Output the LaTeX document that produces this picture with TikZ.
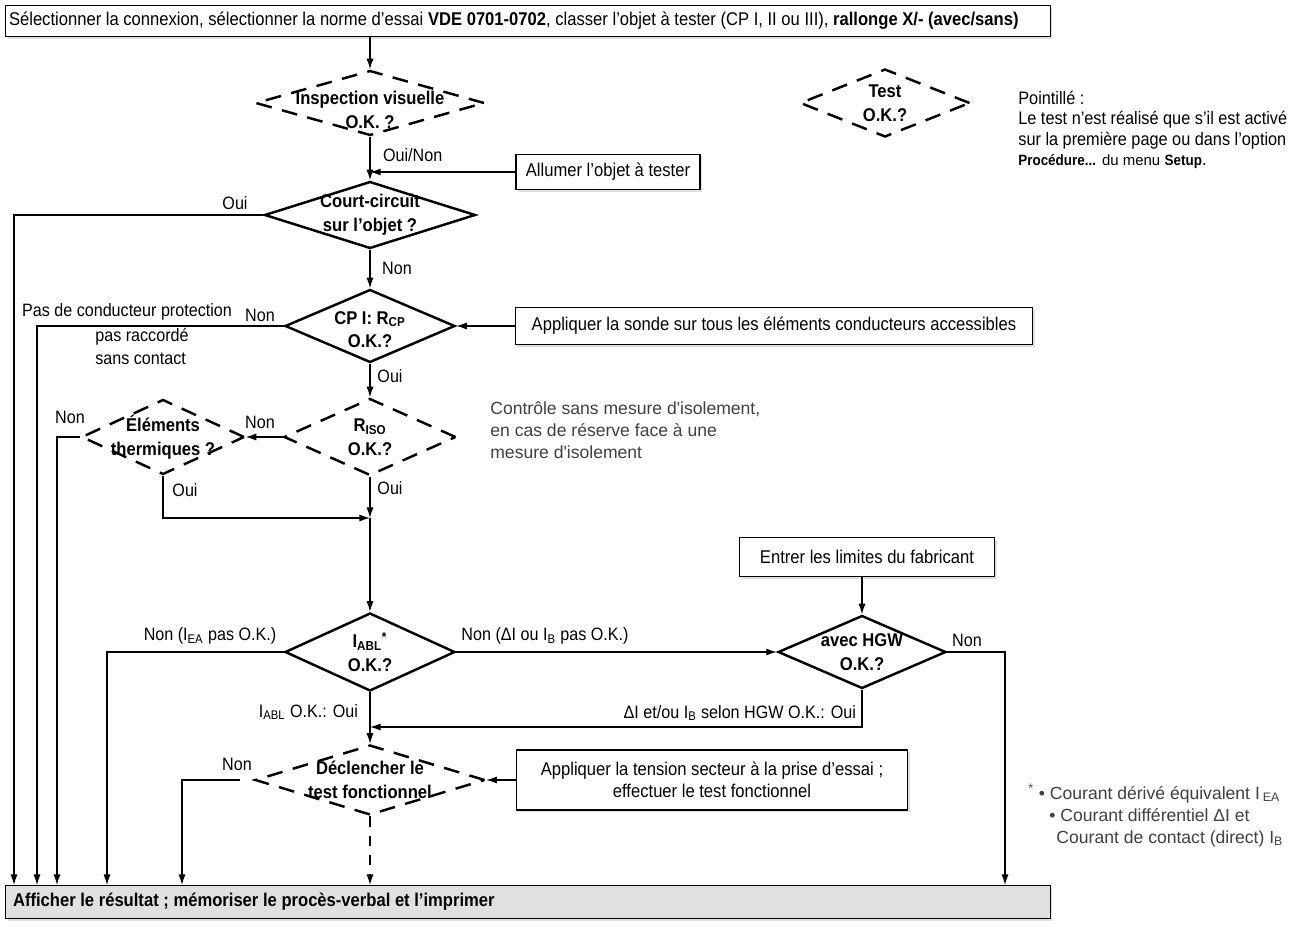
\documentclass[tikz,border=0pt]{standalone}
\usepackage{fontspec}
\setmainfont{Liberation Sans}[FakeStretch=0.9]
\newfontfamily\notefont{Liberation Sans}
\usetikzlibrary{shapes.geometric,arrows.meta,shadows}

\tikzset{
  txt/.style={inner sep=1pt, font=\fontsize{10.2}{12.5}\selectfont},
  box/.style={draw, line width=0.6pt, fill=white, inner sep=0pt,
    font=\fontsize{10.5}{12.5}\selectfont, align=center,
    drop shadow={shadow xshift=1.2pt, shadow yshift=-1.2pt, fill=black!25}},
  ask/.style={diamond, draw, line width=1.4pt, inner sep=0pt},
  askdash/.style={ask, dash pattern=on 9pt off 6pt},
  asktxt/.style={font=\fontsize{10.5}{13.5}\selectfont\bfseries, align=center},
  arr/.style={line width=0.7pt, -{Latex[length=6pt,width=4pt]}},
  note/.style={font=\notefont\fontsize{10}{12.5}\selectfont, text=black!75,
    align=left, inner sep=0pt},
}

\begin{document}
\begin{tikzpicture}[x=0.02cm,y=-0.02cm]
\useasboundingbox (0,0) rectangle (1304,926);

% Boites
\node[box, anchor=north west, minimum width=20.9cm, minimum height=0.62cm] (top) at (5,5)
  {\makebox[20.76cm][l]{Sélectionner la connexion, sélectionner la norme d'essai \textbf{VDE 0701-0702}, classer l'objet à tester (CP I, II ou III), \textbf{rallonge X/- (avec/sans)}}};
\node[box, minimum width=3.68cm, minimum height=0.7cm] (allumer) at (608,172) {Allumer l'objet à tester};
\node[box, minimum width=10.36cm, minimum height=0.74cm] (sonde) at (774,326) {Appliquer la sonde sur tous les éléments conducteurs accessibles};
\node[box, minimum width=5.1cm, minimum height=0.78cm] (limites) at (867,557) {Entrer les limites du fabricant};
\node[box, minimum width=7.82cm, minimum height=1.2cm] (tension) at (712,780)
  {Appliquer la tension secteur à la prise d'essai ;\\effectuer le test fonctionnel};
\node[box, fill=black!12, anchor=north west, minimum width=20.9cm, minimum height=0.66cm,
  font=\fontsize{10.5}{12.5}\selectfont\bfseries] (res) at (5,885)
  {\makebox[20.6cm][l]{Afficher le résultat ; mémoriser le procès-verbal et l'imprimer}};

% Losanges
\node[askdash, minimum width=4.58cm, minimum height=1.3cm,
  label={[asktxt, yshift=-4pt]center:{Inspection visuelle\\O.K. ?}}] (visu) at (370,103) {};
\node[ask, minimum width=4.22cm, minimum height=1.34cm,
  label={[asktxt]center:{Court-circuit\\sur l'objet ?}}] (court) at (370,215) {};
\node[ask, minimum width=3.4cm, minimum height=1.46cm,
  label={[asktxt, yshift=-2pt]center:{CP I: R\textsubscript{CP}\\O.K.?}}] (rcp) at (370,326) {};
\node[askdash, minimum width=3.44cm, minimum height=1.54cm,
  label={[asktxt]center:{R\textsubscript{ISO}\\O.K.?}}] (riso) at (370,437) {};
\node[askdash, minimum width=3.26cm, minimum height=1.5cm,
  label={[asktxt]center:{Éléments\\thermiques ?}}] (therm) at (163,437) {};
\node[ask, minimum width=3.4cm, minimum height=1.56cm,
  label={[asktxt]center:{I\textsubscript{ABL}\textsuperscript{*}\\O.K.?}}] (iabl) at (370,652) {};
\node[ask, minimum width=3.36cm, minimum height=1.46cm,
  label={[asktxt]center:{avec HGW\\O.K.?}}] (hgw) at (862,652) {};
\node[askdash, minimum width=4.6cm, minimum height=1.4cm,
  label={[asktxt]center:{Déclencher le\\test fonctionnel}}] (trig) at (370,780) {};
\node[askdash, minimum width=3.4cm, minimum height=1.36cm,
  label={[asktxt]center:{Test\\O.K.?}}] (legend) at (885,103) {};

% Notes
\node[txt, anchor=north west, align=left, inner sep=0pt,
  font=\fontsize{10.3}{11.5}\selectfont] (pointille) at (1018,91)
  {Pointillé :\\Le test n'est réalisé que s'il est activé\\sur la première page ou dans l'option\\
   {\fontsize{8.5}{11}\selectfont\bfseries Procédure...} {\notefont\fontsize{8.5}{11}\selectfont du menu} {\fontsize{8.5}{11}\selectfont\bfseries Setup}.};
\node[note, anchor=north west] (controle) at (490,401)
  {Contrôle sans mesure d'isolement,\\en cas de réserve face à une\\mesure d'isolement};
\node[note, anchor=north west] (renvoi) at (1028,784)
  {\textsuperscript{*} \textbullet{} Courant dérivé équivalent I\,\textsubscript{EA}\\
   \hspace*{1.2em}\textbullet{} Courant différentiel ΔI et\\
   \hspace*{1.6em}Courant de contact (direct) I\textsubscript{B}};

% Liaisons
\coordinate (join) at (370,518);
\coordinate (retour) at (370,727);
\draw[arr] (visu.north |- top.south) -- (visu.north);
\draw[arr] (visu.south) -- (court.north);
\draw[arr] (allumer.west) -- (allumer.west -| court.north);
\draw[arr] (court.west) -| (14,0 |- res.north);
\draw[arr] (court.south) -- (rcp.north);
\draw[arr] (sonde.west) -- (rcp.east);
\draw[arr] (rcp.west) -| (37,0 |- res.north);
\draw[arr] (rcp.south) -- (riso.north);
\draw[arr] (riso.west) -- (therm.east);
\draw[arr] (therm.west) -| (57,0 |- res.north);
\draw[arr] (therm.south) |- (join);
\draw[arr] (riso.south) -- (join);
\draw[arr] (join) -- (iabl.north);
\draw[arr] (iabl.west) -| (107,0 |- res.north);
\draw[arr] (iabl.east) -- (hgw.west);
\draw[arr] (limites.south -| hgw.north) -- (hgw.north);
\draw[arr] (hgw.east) -| (1005,0 |- res.north);
\draw[arr] (hgw.south) |- (retour);
\draw[arr] (iabl.south) -- (trig.north);
\draw[arr] (tension.west) -- (trig.east);
\draw[arr] ([xshift=-8pt]trig.west) -| (182,0 |- res.north);
\draw[arr, dash pattern=on 6pt off 5pt] (trig.south) -- (trig.south |- res.north);

% Etiquettes
\node[txt, anchor=west] (l1) at (381,155) {Oui/Non};
\node[txt] (l2) at (235,203) {Oui};
\node[txt] (l3) at (397,268) {Non};
\node[txt] (l4) at (260,315) {Non};
\node[txt, anchor=east] (l5) at (234,312) {Pas de conducteur protection};
\node[txt, anchor=north west, align=left, inner sep=0pt,
  font=\fontsize{10.2}{13}\selectfont] (l6) at (95,328) {pas raccordé\\sans contact};
\node[txt] (l7) at (390,376) {Oui};
\node[txt] (l8) at (260,422) {Non};
\node[txt] (l9) at (70,417) {Non};
\node[txt] (l10) at (185,490) {Oui};
\node[txt] (l11) at (390,488) {Oui};
\node[txt] (l12) at (210,636) {Non (I\textsubscript{EA} pas O.K.)};
\node[txt] (l13) at (545,636) {Non (ΔI ou I\textsubscript{B} pas O.K.)};
\node[txt] (l14) at (967,640) {Non};
\node[txt, anchor=east] (l15) at (858,713) {ΔI et/ou I\textsubscript{B} selon HGW O.K.: Oui};
\node[txt, anchor=east] (l16) at (360,712) {I\textsubscript{ABL} O.K.: Oui};
\node[txt] (l17) at (237,764) {Non};
\end{tikzpicture}
\end{document}
